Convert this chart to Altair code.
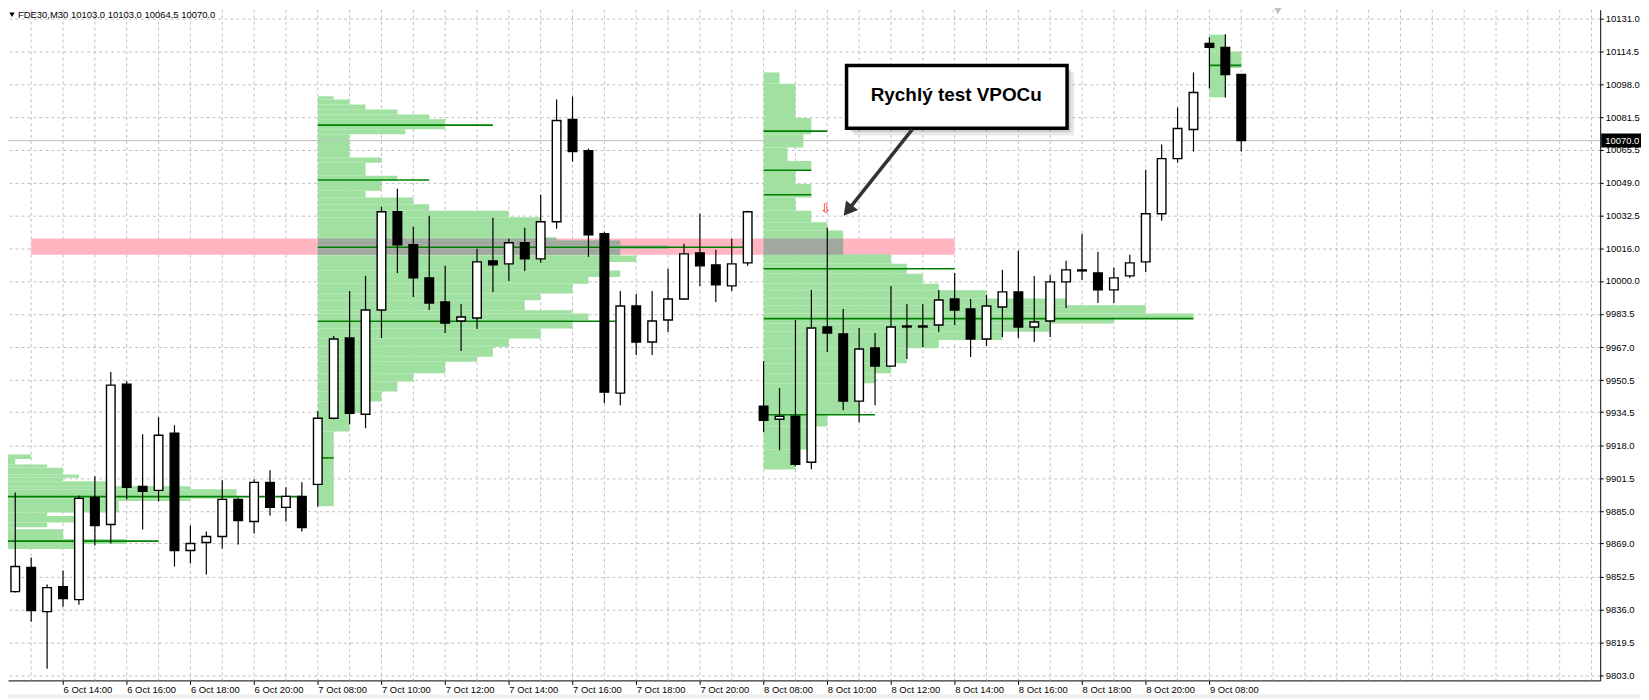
import json
import math
import altair as alt
import pandas as pd

# ---------------- data ----------------
opens = [9839.5, 9845.0, 9857.0, 9835.0, 9847.5, 9841.0, 9892.0, 9878.5, 9948.5, 9897.5,
         9895.5, 9924.0, 9865.5, 9869.5, 9872.5, 9891.0, 9880.0, 9899.5, 9887.0, 9892.5,
         9898.5, 9931.5, 9971.5, 9933.5, 9985.5, 10034.5, 10018.0, 10001.5, 9989.5, 9980.0,
         9981.5, 10010.0, 10008.5, 10019.0, 10011.0, 10029.5, 10080.5, 10065.0, 10023.5, 9944.0,
         9987.5, 9969.5, 9980.5, 9991.0, 10014.0, 10008.0, 9997.5, 10009.0, 9937.5, 9931.0,
         9932.5, 9909.5, 9977.0, 9973.5, 9940.0, 9966.5, 9957.5, 9977.0, 9977.0, 9978.0,
         9991.0, 9986.0, 9971.0, 9987.0, 9994.5, 9977.0, 9980.0, 9999.5, 10005.0, 10004.0,
         9995.5, 10002.5, 10009.5, 10033.5, 10061.0, 10075.5, 10118.5, 10116.5, 10103.0]
highs = [9846.0, 9894.5, 9862.0, 9848.5, 9855.5, 9893.0, 9902.5, 9954.5, 9950.0, 9923.5,
         9932.0, 9928.0, 9878.0, 9875.0, 9900.5, 9892.0, 9901.0, 9905.5, 9897.0, 9899.5,
         9935.0, 9972.5, 9995.0, 10002.5, 10037.0, 10046.0, 10027.0, 10032.5, 10007.5, 9988.5,
         10016.0, 10031.5, 10021.0, 10026.5, 10043.0, 10090.5, 10092.0, 10066.0, 10024.5, 9995.0,
         9993.5, 9995.0, 10006.0, 10018.5, 10033.5, 10015.5, 10021.0, 10035.0, 9960.0, 9946.5,
         9980.5, 9995.5, 10026.5, 9986.0, 9976.5, 9974.0, 9997.5, 9988.5, 9988.5, 9995.5,
         10004.0, 9991.0, 9993.0, 10005.5, 10015.0, 10002.5, 10003.0, 10010.0, 10023.5, 10014.5,
         10006.5, 10013.0, 10055.5, 10068.0, 10086.5, 10104.0, 10121.5, 10123.0, 10103.0]
lows = [9836.0, 9844.5, 9830.0, 9806.5, 9837.5, 9838.5, 9868.0, 9869.0, 9891.0, 9876.0,
        9890.0, 9857.5, 9859.0, 9853.5, 9866.5, 9868.5, 9874.0, 9883.0, 9880.0, 9875.0,
        9887.5, 9931.0, 9928.5, 9926.5, 9971.5, 10004.0, 9992.0, 9985.5, 9974.0, 9965.0,
        9976.0, 9994.5, 10000.0, 10005.0, 10009.0, 10026.0, 10059.5, 10012.0, 9939.0, 9938.0,
        9963.0, 9963.0, 9974.5, 9990.5, 9997.5, 9989.5, 9995.0, 10007.5, 9924.5, 9915.5,
        9907.5, 9906.0, 9964.5, 9935.5, 9929.5, 9938.0, 9957.0, 9961.0, 9967.0, 9974.5,
        9978.0, 9962.0, 9967.5, 9972.0, 9971.5, 9969.5, 9972.0, 9986.5, 10000.5, 9989.0,
        9989.0, 10001.5, 10004.5, 10030.0, 10059.0, 10064.5, 10096.0, 10091.5, 10064.5]
closes = [9844.5, 9857.5, 9835.5, 9847.0, 9841.5, 9891.5, 9878.0, 9948.0, 9897.0, 9895.0,
          9923.0, 9865.5, 9869.0, 9872.5, 9891.0, 9880.5, 9899.5, 9887.0, 9892.5, 9877.0,
          9931.5, 9971.0, 9934.0, 9985.5, 10034.5, 10018.0, 10001.5, 9989.0, 9979.0, 9982.0,
          10009.5, 10008.0, 10019.0, 10011.0, 10029.5, 10080.0, 10064.5, 10023.0, 9944.5, 9987.5,
          9969.5, 9980.0, 9991.0, 10013.5, 10007.5, 9998.0, 10008.5, 10034.5, 9930.5, 9932.5,
          9908.5, 9976.5, 9974.0, 9940.0, 9966.0, 9957.5, 9977.0, 9977.5, 9977.5, 9990.5,
          9985.5, 9971.0, 9987.5, 9994.5, 9977.0, 9979.5, 9999.5, 10005.5, 10005.5, 9995.5,
          10001.5, 10009.0, 10033.5, 10061.0, 10076.0, 10094.0, 10116.5, 10103.0, 10070.0]

tick_idx = list(range(0, 77, 4))
tick_lbl = ["6 Oct 2015", "6 Oct 14:00", "6 Oct 16:00", "6 Oct 18:00", "6 Oct 20:00",
            "7 Oct 08:00", "7 Oct 10:00", "7 Oct 12:00", "7 Oct 14:00", "7 Oct 16:00",
            "7 Oct 18:00", "7 Oct 20:00", "8 Oct 08:00", "8 Oct 10:00", "8 Oct 12:00",
            "8 Oct 14:00", "8 Oct 16:00", "8 Oct 18:00", "8 Oct 20:00", "9 Oct 08:00"]
price_ticks = [10131.0, 10114.5, 10098.0, 10081.5, 10065.5, 10049.0, 10032.5, 10016.0, 10000.0,
               9983.5, 9967.0, 9950.5, 9934.5, 9918.0, 9901.5, 9885.0, 9869.0, 9852.5, 9836.0,
               9819.5, 9803.0]
grid_bars = list(range(2, 101, 2))

# volume profiles: start bar, level boundaries (price), row lengths (in bars)
p1_start = 0
p1_levels = [9913.4, 9911.2, 9908.4, 9906.8, 9903.4, 9901.8, 9900.1, 9897.6, 9896.0, 9891.4,
             9890.2, 9884.4, 9882.7, 9879.5, 9877.1, 9876.1, 9871.2, 9868.7, 9866.2]
p1_widths = [2.0, 1.0, 3.0, 4.0, 5.0, 4.0, 6.7, 12.0, 14.9, 12.0, 7.5, 3.0, 5.0, 3.0, 1.0, 4.0, 8.0, 5.0]

p2_start = 20
p2_levels = [10092.1, 10090.5, 10088.0, 10085.5, 10083.0, 10080.6, 10075.6, 10073.1, 10061.5, 10059.0,
             10052.4, 10049.9, 10045.0, 10041.6, 10038.3, 10035.0, 10031.7, 10021.8, 10020.1, 10017.6,
             10016.0, 10012.7, 10009.4, 10005.2, 10001.9, 9998.6, 9993.7, 9990.3, 9985.4, 9983.7,
             9980.4, 9976.3, 9971.3, 9967.1, 9962.2, 9959.7, 9953.9, 9949.8, 9944.8, 9939.8,
             9934.1, 9924.9, 9887.6]
p2_widths = [1, 2, 3, 5, 7, 8, 5.5, 2, 4, 3, 5, 4, 3, 6, 7, 12, 14, 15, 19, 22, 19, 20, 18, 19,
             17, 16, 14, 13, 16, 17, 16, 14, 12, 11, 10, 8, 6, 5, 4, 3, 2, 1]

p3_start = 48
p3_levels = [10104.0, 10098.4, 10081.3, 10073.1, 10066.5, 10059.8, 10054.9, 10048.3, 10041.6, 10035.0,
             10029.2, 10025.1, 10021.0, 10013.2, 10008.6, 10003.6, 9998.6, 9995.3, 9991.2, 9987.9,
             9983.7, 9981.2, 9978.8, 9974.6, 9970.5, 9966.4, 9958.9, 9953.9, 9949.0, 9933.2,
             9927.4, 9915.9, 9905.9]
p3_widths = [1, 2, 3, 2.5, 1.5, 3, 2, 3, 2, 3, 4, 5, 5, 8, 9, 10, 11, 14, 19, 24, 27, 22, 18, 15,
             11, 9, 8, 7, 6, 4, 3, 2]

p4_start = 76
p4_levels = [10122.8, 10114.5, 10106.2, 10091.6]
p4_widths = [1, 2, 1]

# marked levels (dark green): start bar, price, length in bars
lvl_start = [0, 0, 20, 20, 20, 20, 20, 48, 48, 48, 48, 48, 48, 76]
lvl_price = [9892.4, 9870.2, 10077.7, 10050.3, 10016.8, 9979.9, 9911.7,
             10074.7, 10055.2, 10043.0, 10006.1, 9981.2, 9933.2, 10107.5]
lvl_len = [19, 10, 11, 7, 27, 18.7, 1, 4, 3, 3, 12, 27, 7, 2]

band_bars = [2, 60]
band_price = [10013.1, 10021.1]
current_price = 10070.0

note_text = "Rychlý test VPOCu"
note_box_x = [53.21, 67.06]
note_box_y = [10107.5, 10076.1]
note_text_pos = [60.1, 10092.6]
arrow_from = [57.34, 10075.6]
arrow_to = [53.03, 10032.5]
signal_pos = [51.9, 10035.9]
shift_marker_bar = 80.3

# ---------------- frames ----------------
candles = pd.DataFrame({"i": list(range(len(opens))), "O": opens, "H": highs, "L": lows, "C": closes})
candles["bl"] = candles["i"] - 0.27
candles["br"] = candles["i"] + 0.27
candles["fill"] = ["white" if c > o else "black" for o, c in zip(opens, closes)]

prof_rows = []
for start, levels, widths in [(p1_start, p1_levels, p1_widths), (p2_start, p2_levels, p2_widths),
                              (p3_start, p3_levels, p3_widths), (p4_start, p4_levels, p4_widths)]:
    for j, w in enumerate(widths):
        prof_rows.append({"x": start, "x2": start + w, "y": levels[j], "y2": levels[j + 1]})
prof = pd.DataFrame(prof_rows)

ov_rows = []
for r in prof_rows:
    top = min(r["y"], band_price[1])
    bot = max(r["y2"], band_price[0])
    x1 = max(r["x"], band_bars[0])
    x2 = min(r["x2"], band_bars[1])
    if top > bot and x2 > x1:
        ov_rows.append({"x": x1, "x2": x2, "y": top, "y2": bot})
overlap = pd.DataFrame(ov_rows)

levels_df = pd.DataFrame({"x": lvl_start, "p": lvl_price,
                          "x2": [s + l for s, l in zip(lvl_start, lvl_len)]})
band = pd.DataFrame({"x": [band_bars[0]], "x2": [band_bars[1]], "y": [band_price[0]], "y2": [band_price[1]]})
grid_df = pd.DataFrame({"g": grid_bars})
cur_df = pd.DataFrame({"p": [current_price], "lo": [current_price - 3.5], "hi": [current_price + 3.5],
                       "lbl": [f"{current_price:.1f}"]})

# ---------------- scales / axes ----------------
W, H = 1600, 674
x_dom = [0.544, 100.544]
y_dom = [9800.7, 10135.3]
xs = alt.Scale(domain=x_dom, nice=False, zero=False)
ys = alt.Scale(domain=y_dom, nice=False, zero=False)
FONT = "Liberation Sans"

x_axis = alt.Axis(orient="bottom", values=tick_idx,
                  labelExpr=json.dumps(tick_lbl) + "[round(datum.value/4)]",
                  grid=False, domainColor="black", domainWidth=1, tickColor="black", tickSize=4,
                  labelAlign="left", labelBaseline="top", labelPadding=0, labelFont=FONT,
                  labelFontSize=9.5, labelColor="black", labelFlush=False, labelOverlap=False,
                  labelBound=False, title=None)
y_axis = alt.Axis(orient="right", values=price_ticks, format=".1f", grid=True, gridDash=[3, 3],
                  gridColor="#C0C0C0", gridWidth=1, domainColor="black", domainWidth=1,
                  tickColor="black", tickSize=3, labelPadding=2, labelFont=FONT, labelFontSize=9.5,
                  labelColor="black", labelFlush=False, labelOverlap=False, title=None)


def X(f):
    return alt.X(f, type="quantitative", scale=xs, axis=x_axis)


def Y(f):
    return alt.Y(f, type="quantitative", scale=ys, axis=y_axis)


vgrid = alt.Chart(grid_df).mark_rule(color="#C0C0C0", strokeDash=[3, 3], strokeWidth=1).encode(
    x=X("g"), y=alt.value(0), y2=alt.value(H))

band_l = alt.Chart(band).mark_rect(color="#FFB6C1").encode(
    x=X("x"), x2="x2", y=Y("y"), y2="y2")

prof_l = alt.Chart(prof).mark_rect(color="#A0E0A0").encode(
    x=X("x"), x2="x2", y=Y("y"), y2="y2")

ov_l = alt.Chart(overlap).mark_rect(color="#A0A8A0").encode(
    x=X("x"), x2="x2", y=Y("y"), y2="y2")

lvl_l = alt.Chart(levels_df).mark_rule(color="#008000", strokeWidth=1.6).encode(
    x=X("x"), x2="x2", y=Y("p"))

cur_line = alt.Chart(cur_df).mark_rule(color="#C0C0C0", strokeWidth=1).encode(
    y=Y("p"), x=alt.value(0), x2=alt.value(W))

wicks = alt.Chart(candles).mark_rule(color="black", strokeWidth=1.2).encode(
    x=X("i"), y=Y("L"), y2="H")

bodies = alt.Chart(candles).mark_rect(stroke="black", strokeWidth=1.4).encode(
    x=X("bl"), x2="br", y=Y("O"), y2="C", fill=alt.Fill("fill:N", scale=None))

# annotation
box_df = pd.DataFrame({"x": [note_box_x[0]], "x2": [note_box_x[1]], "y": [note_box_y[0]], "y2": [note_box_y[1]]})
shadow1 = alt.Chart(box_df).mark_rect(color="#808080", opacity=0.18, xOffset=7, yOffset=7, x2Offset=7, y2Offset=7).encode(
    x=X("x"), x2="x2", y=Y("y"), y2="y2")
shadow2 = alt.Chart(box_df).mark_rect(color="#808080", opacity=0.25, xOffset=4, yOffset=4, x2Offset=4, y2Offset=4).encode(
    x=X("x"), x2="x2", y=Y("y"), y2="y2")
box = alt.Chart(box_df).mark_rect(fill="white", stroke="black", strokeWidth=3.5).encode(
    x=X("x"), x2="x2", y=Y("y"), y2="y2")
note = alt.Chart(pd.DataFrame({"x": [note_text_pos[0]], "y": [note_text_pos[1]], "t": [note_text]})).mark_text(
    font=FONT, fontSize=19, fontWeight="bold", color="black", align="center", baseline="middle").encode(
    x=X("x"), y=Y("y"), text="t:N")

# arrow geometry (pixel direction from the scales' px-per-unit)
kx = W / (x_dom[1] - x_dom[0])
ky = H / (y_dom[1] - y_dom[0])
dxp = (arrow_to[0] - arrow_from[0]) * kx
dyp = -(arrow_to[1] - arrow_from[1]) * ky
ln = math.hypot(dxp, dyp)
ux, uy = dxp / ln, dyp / ln
ang = (math.degrees(math.atan2(ux, -uy)) + 360) % 360
back = 6.8
head_x = arrow_to[0] - ux * back / kx
head_y = arrow_to[1] + uy * back / ky
arrow_df = pd.DataFrame({"x": [arrow_from[0]], "y": [arrow_from[1]], "x2": [head_x], "y2": [head_y]})
arrow_line = alt.Chart(arrow_df).mark_rule(color="#333333", strokeWidth=3.5).encode(
    x=X("x"), x2="x2", y=Y("y"), y2="y2")
head_df = pd.DataFrame({"x": [head_x], "y": [head_y]})
arrow_head = alt.Chart(head_df).mark_point(shape="triangle-up", filled=True, color="#333333", opacity=1,
                                           size=240, angle=round(ang, 1)).encode(x=X("x"), y=Y("y"))

signal = alt.Chart(pd.DataFrame({"x": [signal_pos[0]], "y": [signal_pos[1]], "t": ["⇩"]})).mark_text(
    font="DejaVu Sans", fontSize=13, color="#FF0000", align="center", baseline="middle").encode(
    x=X("x"), y=Y("y"), text="t:N")

# chart shift marker at the top
shift_df = pd.DataFrame({"x": [shift_marker_bar]})
shift_mark = alt.Chart(shift_df).mark_point(shape="triangle-down", filled=True, color="#C0C0C0", opacity=1,
                                            size=70).encode(x=X("x"), y=alt.value(1))

# current price tag on the price axis
tag_rect = alt.Chart(cur_df).mark_rect(color="black").encode(
    x=alt.value(W + 1), x2=alt.value(W + 41), y=Y("lo"), y2="hi")
tag_text = alt.Chart(cur_df).mark_text(font=FONT, fontSize=9.5, color="white", align="left",
                                       baseline="middle").encode(x=alt.value(W + 5), y=Y("p"), text="lbl:N")

# header
hdr = f"FDE30,M30  {opens[-1]:.1f} {highs[-1]:.1f} {lows[-1]:.1f} {closes[-1]:.1f}"
hdr_df = pd.DataFrame({"t": [hdr]})
hdr_tri = alt.Chart(hdr_df).mark_point(shape="triangle-down", filled=True, color="black", opacity=1,
                                       size=28).encode(x=alt.value(4), y=alt.value(5))
hdr_text = alt.Chart(hdr_df).mark_text(font=FONT, fontSize=9.5, color="black", align="left",
                                       baseline="middle").encode(x=alt.value(10), y=alt.value(5), text="t:N")

# window frame strip below the time axis
strip = alt.Chart(hdr_df).mark_rect(color="#F0F0F0").encode(
    x=alt.value(0), x2=alt.value(W + 41), y=alt.value(H + 14), y2=alt.value(H + 18))

chart = alt.layer(
    vgrid, band_l, prof_l, ov_l, lvl_l, cur_line, wicks, bodies,
    shadow1, shadow2, box, note, arrow_line, arrow_head, signal, shift_mark,
    tag_rect, tag_text, hdr_tri, hdr_text, strip
).properties(
    width=W, height=H,
    autosize=alt.AutoSizeParams(type="none"),
    padding={"left": 0, "top": 0, "right": 41, "bottom": 18},
    background="white",
).configure_view(stroke=None)

chart.save("out.html", embed_options={"renderer": "svg", "actions": False})
